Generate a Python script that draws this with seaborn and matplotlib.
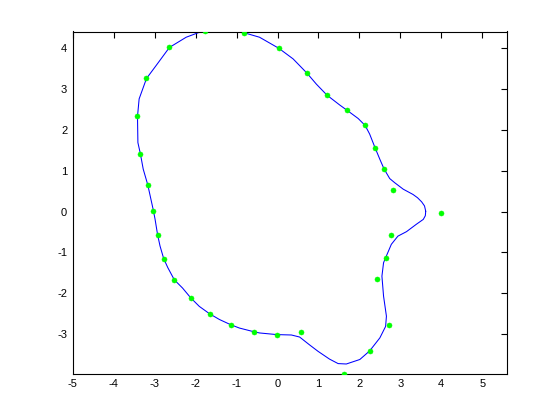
import matplotlib
matplotlib.use('Agg')
import matplotlib.pyplot as plt
import seaborn as sns
import pandas as pd

# sample points (green markers)
pts_x = [4.00, 2.82, 2.60, 2.38, 2.14, 1.70, 1.21, 0.72, 0.03, -0.82, -1.78, -2.64,
         -3.20, -3.42, -3.35, -3.17, -3.03, -2.93, -2.78, -2.52, -2.12, -1.66, -1.14,
         -0.58, -0.02, 0.57, 1.62, 2.25, 2.72, 2.43, 2.64, 2.77]
pts_y = [-0.03, 0.54, 1.05, 1.57, 2.11, 2.48, 2.85, 3.39, 4.00, 4.37, 4.42, 4.02,
         3.26, 2.33, 1.42, 0.66, 0.02, -0.56, -1.15, -1.67, -2.11, -2.50, -2.77,
         -2.94, -3.02, -2.94, -3.98, -3.41, -2.77, -1.64, -1.13, -0.56]

# closed fitted curve (blue)
curve_x = [3.62, 3.59, 3.52, 3.42, 3.31, 3.07, 2.86, 2.74, 2.60, 2.50, 2.38, 2.25, 2.14, 1.97,
           1.70, 1.52, 1.21, 0.95, 0.72, 0.38, 0.03, -0.44, -0.82, -1.05, -1.35,
           -1.65, -1.91, -2.23, -2.64, -2.97, -3.20, -3.38, -3.42, -3.41, -3.35,
           -3.28, -3.17, -3.03, -2.99, -2.93, -2.87, -2.78, -2.68, -2.52, -2.32,
           -2.12, -1.91, -1.66, -1.42, -1.14, -0.93, -0.58, -0.44, -0.02, 0.34,
           0.54, 0.78, 0.99, 1.27, 1.48, 1.68, 2.01, 2.25, 2.50, 2.64, 2.66, 2.59,
           2.55, 2.59, 2.64, 2.78, 2.94, 3.15, 3.39, 3.56, 3.61, 3.62]
curve_y = [0.01, 0.14, 0.24, 0.34, 0.42, 0.55, 0.71, 0.81, 1.05, 1.28, 1.57, 1.90, 2.11, 2.28,
           2.48, 2.61, 2.85, 3.12, 3.39, 3.74, 4.00, 4.27, 4.38, 4.43, 4.45,
           4.43, 4.39, 4.27, 4.02, 3.57, 3.26, 2.76, 2.33, 1.69, 1.42,
           1.04, 0.66, 0.02, -0.19, -0.56, -0.84, -1.15, -1.37, -1.67, -1.87,
           -2.11, -2.32, -2.50, -2.64, -2.77, -2.85, -2.94, -2.97, -3.01, -3.02,
           -3.07, -3.26, -3.42, -3.61, -3.72, -3.73, -3.62, -3.41, -3.09, -2.81, -2.56, -2.07,
           -1.58, -1.25, -1.13, -0.80, -0.60, -0.49, -0.31, -0.19, -0.10, 0.01]

x_ticks = [-5, -4, -3, -2, -1, 0, 1, 2, 3, 4, 5]
y_ticks = [-3, -2, -1, 0, 1, 2, 3, 4]

sns.set_style('white')
plt.rcParams['font.family'] = ['Liberation Sans', 'DejaVu Sans']
plt.rcParams['axes.unicode_minus'] = False

curve_df = pd.DataFrame({'x': curve_x, 'y': curve_y})
pts_df = pd.DataFrame({'x': pts_x, 'y': pts_y})

fig = plt.figure(figsize=(5.6, 4.2), dpi=100)
ax = fig.add_axes([0.13, 0.11, 0.775, 0.815])

sns.lineplot(data=curve_df, x='x', y='y', sort=False, estimator=None,
             color='#0000ff', linewidth=0.75, ax=ax)
sns.scatterplot(data=pts_df, x='x', y='y', marker='o', s=13, color='#00ff00',
                edgecolor='#00ff00', linewidth=0.4, ax=ax, zorder=3)

ax.set_xlim(-5.0, 5.6)
ax.set_ylim(-3.97, 4.41)
ax.set_xticks(x_ticks)
ax.set_yticks(y_ticks)
ax.set_xlabel('')
ax.set_ylabel('')
ax.tick_params(direction='in', length=4, width=0.8, labelsize=8, colors='black',
               top=True, right=True, pad=4)
for s in ax.spines.values():
    s.set_visible(True)
    s.set_color('black')
    s.set_linewidth(0.8)

plt.savefig('out.png', dpi=100)
